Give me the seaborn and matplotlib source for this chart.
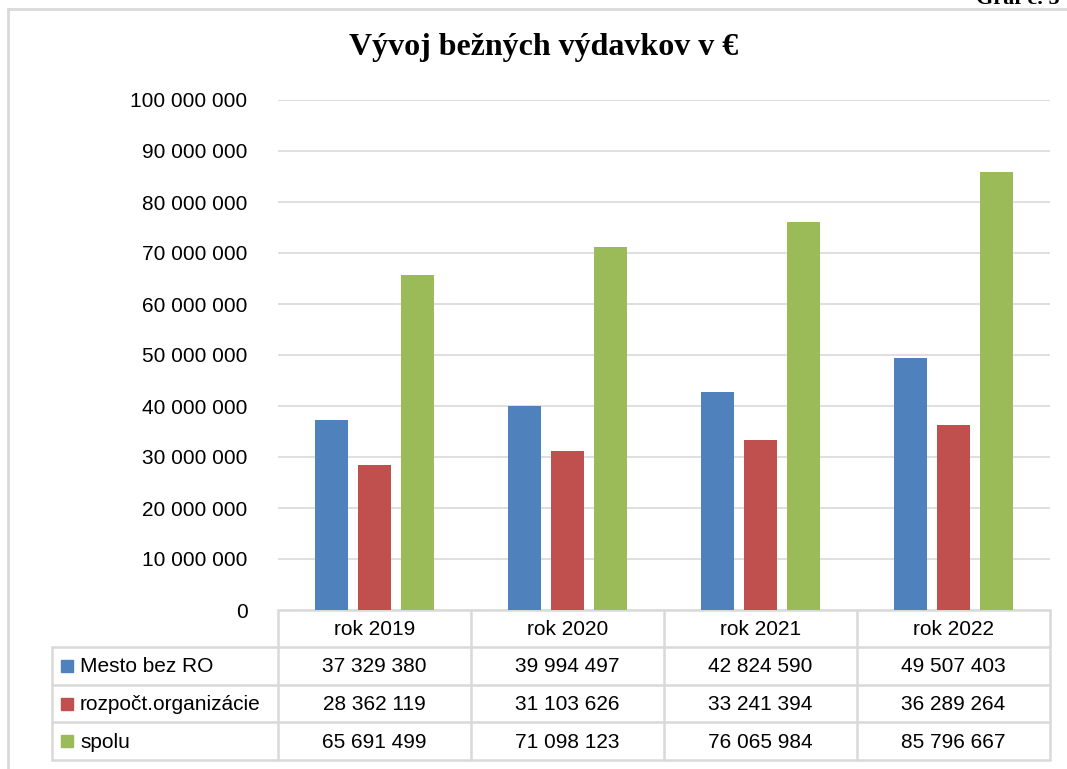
import matplotlib
matplotlib.use("Agg")
import matplotlib.pyplot as plt
import seaborn as sns
import pandas as pd

years = ["rok 2019", "rok 2020", "rok 2021", "rok 2022"]
series_names = ["Mesto bez RO", "rozpočt.organizácie", "spolu"]
mesto = [37329380, 39994497, 42824590, 49507403]
rozpoct = [28362119, 31103626, 33241394, 36289264]
spolu = [65691499, 71098123, 76065984, 85796667]
colors = ["#4F81BD", "#C0504D", "#9BBB59"]
yticks = list(range(0, 100000001, 10000000))

sns.set_theme(style="white")
plt.rcParams["font.family"] = ["Liberation Sans", "DejaVu Sans"]
plt.rcParams["text.color"] = "black"

W, H = 1067, 769
fig = plt.figure(figsize=(W / 100, H / 100), dpi=100)

# overlay in pixel coordinates for frame/table
ov = fig.add_axes([0, 0, 1, 1])
ov.set_xlim(0, W)
ov.set_ylim(H, 0)
ov.axis("off")

# plot area
x0, x1, ytop, ybot = 278, 1050, 100, 610
ax = fig.add_axes([x0 / W, 1 - ybot / H, (x1 - x0) / W, (ybot - ytop) / H])

df = pd.DataFrame({
    "year": years * 3,
    "series": sum([[s] * len(years) for s in series_names], []),
    "value": mesto + rozpoct + spolu,
})
sns.barplot(data=df, x="year", y="value", hue="series", order=years,
            hue_order=series_names, palette=colors, width=0.668, gap=0.23,
            saturation=1, legend=False, ax=ax, zorder=3, linewidth=0)
ax.set_ylim(0, 100000000)
ax.set_xlim(-0.5, len(years) - 0.5)
ax.set_yticks(yticks)
ax.set_yticklabels([f"{v:,}".replace(",", " ") for v in yticks], fontsize=15, color="black")
ax.tick_params(axis="y", length=0, pad=22)
ax.set_xticks([])
ax.set_xlabel("")
ax.set_ylabel("")
for s in ax.spines.values():
    s.set_visible(False)
ax.grid(axis="y", color="#D9D9D9", linewidth=1.2, zorder=0)
ax.set_axisbelow(True)

# title
fig.text(544 / W, 1 - 48 / H, "Vývoj bežných výdavkov v €", ha="center", va="center",
         fontsize=23, fontweight="bold", color="black",
         family=["Liberation Serif", "DejaVu Serif"])

# top-right caption, clipped by the page edge as in the reference
fig.text(976 / W, 1 - 4 / H, "Graf č. 5", ha="left", va="baseline",
         fontsize=16, fontweight="bold", color="black",
         family=["Liberation Serif", "DejaVu Serif"])

# frame
lc = "#D9D9D9"
ov.plot([8, W], [9, 9], color=lc, lw=2)
ov.plot([8, 8], [9, H], color=lc, lw=2)

# data table
rows_y = [610, 647, 685, 722, 760]
cat_x = [x0 + (x1 - x0) * i / len(years) for i in range(len(years) + 1)]
ov.plot([x0, x1], [rows_y[0], rows_y[0]], color=lc, lw=1.8)
for yy in rows_y[1:]:
    ov.plot([52, x1], [yy, yy], color=lc, lw=1.8)
for xx in cat_x:
    ov.plot([xx, xx], [rows_y[0], rows_y[-1]], color=lc, lw=1.8)
ov.plot([52, 52], [rows_y[1], rows_y[-1]], color=lc, lw=1.8)

for i, yr in enumerate(years):
    cx = (cat_x[i] + cat_x[i + 1]) / 2
    ov.text(cx, (rows_y[0] + rows_y[1]) / 2 + 1, yr, ha="center", va="center", fontsize=15)

all_vals = [mesto, rozpoct, spolu]
for r, (name, vals, col) in enumerate(zip(series_names, all_vals, colors)):
    cy = (rows_y[r + 1] + rows_y[r + 2]) / 2
    ov.add_patch(plt.Rectangle((61, cy - 6), 12, 12, color=col))
    ov.text(80, cy + 1, name, ha="left", va="center", fontsize=15)
    for i, v in enumerate(vals):
        cx = (cat_x[i] + cat_x[i + 1]) / 2
        ov.text(cx, cy + 1, f"{v:,}".replace(",", " "), ha="center", va="center", fontsize=15)

fig.savefig("out.png", dpi=100)
